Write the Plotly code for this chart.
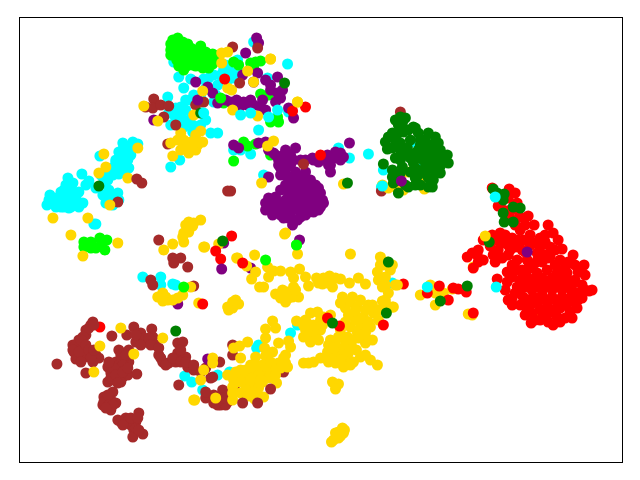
import plotly.graph_objects as go

cyan = [(49,195),(46,205),(53,203),(60,207),(68,208),(78,207),(82,203),(67,178),(70,187),(63,190),(58,197),(75,193),(68,197),(65,202),(73,202),(78,192),(81,174),(88,181),(95,188),(100,175),(106,170),(107,180),(108,190),(117,193),(118,200),(105,203),(112,200),(99,156),(95,224),(93,224),(115,162),(118,152),(123,147),(132,142),(137,144),(128,150),(123,157),(120,163),(128,168),(118,174),(127,160),(113,167),
(173,62),(178,77),(183,88),(190,79),(167,97),(180,107),(190,100),(168,113),(180,115),(170,125),(183,127),(192,125),(192,132),(210,133),(217,133),(202,113),(170,167),(179,160),(203,79),(213,75),(230,72),(237,60),(223,70),(205,88),(217,85),(227,80),(193,95),(213,102),(287,64),(267,78),(253,42),(263,175),(240,150),(250,154),(233,150),(288,112),(258,130),
(368,154),(349,158),(338,148),(383,170),(381,187),(392,283),(412,142),(423,167),(142,277),(160,277),(160,285),(172,284),(175,285),(184,376),(191,382),(202,390),(217,375),(229,372),(258,345),(256,348),(290,333),(297,325),
(55,200),(62,200),(60,192),(68,192),(73,197),(70,207),(63,207),(55,207),(48,200),(65,185),(72,183),(75,198),(115,160),(122,150),(127,147),(125,165),(118,168),(123,170),(112,175),(103,183),(110,195),(102,195),(112,205),(85,185),(130,155),(122,143),
(174,116),(180,122),(175,108),(185,100),(188,120),(185,110),(200,125),(195,132),(205,120),(210,90),(208,78),(222,78),(232,78),(237,72),(215,95),(200,95),(220,75),(225,65)]
lime = [(172,40),(177,38),(170,44),(176,44),(182,42),(187,44),(190,48),(173,50),(178,50),(184,50),(170,55),(175,56),(181,56),(188,54),(194,50),(200,46),(203,52),(197,56),(191,60),(186,60),(207,54),(212,54),(216,56),(198,62),(204,62),(210,62),(195,66),(202,68),(208,68),(178,66),(183,70),(176,60),(192,65),(212,64),
(233,62),(238,65),(250,63),(255,62),(260,61),(253,68),(260,94),(268,95),(223,103),(277,117),(270,122),(278,122),(243,142),(247,146),(255,144),(233,161),(270,155),
(83,242),(83,247),(90,242),(90,248),(99,238),(100,245),(106,240),(104,250),(95,248),(296,245),
(175,47),(187,50),(193,55),(200,50),(205,57),(180,62),(170,50),(200,65),(205,52),(186,66)]
brown = [(232,47),(153,99),(145,107),(152,108),(160,105),(168,106),(163,117),(203,102),(195,105),(167,144),(117,202),(227,191),(230,191),(400,112),(381,191),
(158,240),(172,258),(180,258),(173,263),(187,267),(150,280),(152,285),(193,286),
(92,322),(88,328),(85,335),(78,340),(72,345),(80,347),(73,352),(85,353),(75,359),(82,358),(95,355),(98,358),(92,362),(56,364),(85,373),(111,336),(126,335),(133,327),(140,333),(135,342),(145,342),(151,329),(152,337),(155,345),(158,355),(162,362),(168,363),(175,362),(177,353),(177,343),(182,342),(185,357),(187,367),(193,370),(178,385),(118,350),(128,350),(122,358),(128,362),(115,362),(107,367),(117,370),(110,373),(122,377),(127,375),(107,382),(120,382),(136,374),(113,380),(112,392),(103,397),(102,405),(110,400),(115,403),(110,410),(117,420),(125,418),(138,413),(135,422),(130,425),(133,430),(142,434),(132,437),
(219,362),(232,345),(232,355),(205,398),(213,395),(222,390),(213,403),(220,405),(227,402),(212,377),(235,384),(283,372),(270,373),(210,378),(217,405),(223,403),
(90,325),(85,330),(82,337),(75,345),(80,340),(72,350),(78,352),(85,345),(88,350),(90,358),(80,362),(93,350),(120,355),(125,355),(118,365),(122,365),(113,368),(110,378),(115,375),(122,372),(117,383),(127,368),(108,362),(103,402),(107,395),(108,405),(112,405),(105,408),(120,422),(128,420),(135,428),(122,425),(130,418),(137,418),(138,430),(143,338),(140,345),(148,338),(150,345),(158,348),(160,358),(165,365),(172,358),(180,350),(180,362),(185,362),(193,365),(205,368),(200,372),(215,403),(205,392),(225,405),(218,400),(228,395),(215,398),(222,398),(135,335)]
purple = [(295,148),(273,153),(278,160),(283,155),(280,168),(287,167),(293,160),(313,160),(320,160),
(285,175),(295,172),(303,178),(290,182),(300,185),(310,180),(280,190),(290,190),(300,192),(310,190),(318,188),(322,200),(270,200),(265,203),(275,197),(285,200),(295,200),(305,200),(315,205),(265,210),(275,207),(285,208),(295,208),(305,208),(313,212),(280,215),(288,218),(297,220),(305,215),(272,215),(285,213),(320,207),(299,240),
(349,143),(340,153),(335,152),(340,160),(333,158),(328,165),(330,172),(323,157),(323,203),
(256,38),(258,43),(245,53),(257,73),(242,75),(277,77),(270,85),(277,93),(275,102),(280,98),(253,82),(265,80),(212,93),(195,82),(207,87),(230,102),(235,105),(243,102),(250,100),(253,105),(260,107),(247,105),(288,108),(293,118),(153,120),(197,100),(217,103),(233,145),(238,148),(265,142),(258,143),(268,177),
(223,243),(250,268),(177,304),(207,359),
(280,175),(290,177),(298,178),(305,172),(295,187),(305,187),(285,185),(315,185),(288,195),(298,196),(308,195),(316,196),(320,193),(278,203),(290,204),(300,204),(310,203),(270,205),(268,198),(280,210),(290,213),(300,213),(308,212),(318,210),(275,212),(283,218),(293,222),(300,217),(292,225),(285,150),(278,165),(290,155),(285,160),(275,155),(268,150),(290,165),(283,172),(300,160),(318,162),(330,165),(327,155),(337,156),(343,157),(312,158),(240,106),(262,100),(270,90),(282,90),(265,110),(236,100),(225,100),(305,160),(328,160)]
gold = [(52,218),(87,218),(70,235),(103,154),(105,167),(98,173),(137,148),(127,178),(109,205),(221,53),(227,52),(221,63),(270,59),(247,71),(253,82),(202,91),(227,88),(231,90),(297,102),(157,121),(193,115),(232,110),(257,116),(273,141),(267,146),(261,183),(284,234),(170,143),(172,156),(180,133),(177,140),(183,145),(190,142),(200,131),(202,142),(197,145),(188,153),(192,148),(143,106),
(200,220),(193,223),(185,225),(183,233),(188,232),(183,242),(172,244),(163,250),(203,247),(218,244),(237,258),(246,266),(117,243),(82,256),
(162,293),(162,301),(167,300),(177,298),(182,295),(190,287),(198,303),(227,307),(232,308),(235,300),(238,304),(120,328),(162,338),(99,346),(133,354),(93,372),(194,400),
(285,233),(204,247),(297,254),(350,254),(254,255),(236,258),(267,267),(255,272),(251,279),(268,277),(273,271),(280,271),(290,272),(299,269),(293,278),(305,277),(259,287),(263,287),(308,286),(316,278),(323,278),(329,276),(332,287),(330,282),(340,279),(349,283),(358,278),(365,284),
(275,294),(285,302),(287,292),(293,287),(298,297),(292,297),(380,257),(387,262),(390,270),(377,272),(385,277),(378,280),(388,293),(382,301),(393,307),(392,307),
(272,321),(275,328),(265,329),(265,338),(296,321),(247,342),(239,346),(233,348),(278,343),(288,341),(290,347),(264,348),(272,352),(240,358),(255,357),(265,356),
(305,330),(310,313),(317,312),(323,317),(305,320),(313,325),(307,333),(315,337),(320,330),(312,332),
(342,297),(350,302),(345,308),(357,307),(368,305),(353,315),(363,317),(373,313),(360,327),(370,327),(350,327),(338,337),(328,345),(347,337),(357,333),(365,343),(372,340),(343,348),(337,353),(348,353),(327,352),(320,358),(313,362),(303,363),(308,363),(335,363),(343,367),(347,358),(353,362),(360,357),(370,360),(377,365),(332,382),(338,384),(335,389),
(340,432),(335,433),(343,433),(338,438),(333,440),(331,442),(342,428),(338,432),(340,436),(336,436),(344,430),
(285,363),(278,363),(287,367),(280,368),(253,373),(240,370),(247,377),(257,368),(265,373),(270,370),(253,383),(245,383),(262,382),(255,377),(250,390),(258,388),(240,393),(233,380),(227,375),(232,387),(232,400),(254,399),(263,397),(276,383),(212,358),(212,363),(203,370),(200,380),(193,400),(215,398),
(395,285),(420,295),(430,285),(435,305),(435,293),(443,293),(452,289),(472,315),(468,314),(343,184),(473,267),(382,185),(388,188),(395,187),(403,190),(417,178),(420,180),(424,189),(407,172),(444,161),
(330,340),(335,345),(345,342),(352,340),(340,330),(345,322),(355,320),(360,322),(365,310),(348,315),(340,303),(352,297),(360,300),(372,305),(378,310),(378,320),(368,322),(358,338),(352,348),(342,355),(333,358),(325,358),(340,360),(350,365),(356,350),(320,320),(310,325),(322,325),(330,315),(318,340),(310,342),(303,325),(303,337),(360,318),(355,310),(365,333),(333,348),(328,362),(365,355),
(240,375),(245,370),(250,365),(252,378),(258,375),(262,365),(245,390),(240,382),(268,378),(255,365),(260,380),(235,372),(232,393),(248,396),(256,393),(270,362),(275,370),(283,358),(275,375),(285,355),
(288,298),(280,298),(295,290),(282,290),(335,278),(327,283),(322,284),(318,283),(385,285),(385,300),(383,265),(392,265),(380,265),(382,287),(386,305),(195,135),(183,140),(195,150),(180,150),(187,148),(195,142),(188,222),(182,237),(192,226),(165,297),(172,300),(157,297),(232,302),(228,310),(537,317)]
red = [(492,188),(509,189),(515,193),(517,203),(498,206),(503,210),(520,217),(528,216),(534,225),(548,225),(553,233),(545,235),(500,233),(492,235),(483,240),(520,230),(530,235),(512,238),(502,243),(515,247),(523,240),(540,247),(550,247),(562,249),(573,255),(472,253),(467,257),(477,255),(483,260),(473,268),(493,255),(502,258),(508,255),(517,260),(527,260),(537,253),(535,263),(550,257),(560,260),(570,263),(578,272),(575,280),(507,272),(517,270),(520,280),(527,277),(537,273),(547,270),(557,273),(567,273),(497,279),(507,282),(517,287),(527,287),(537,285),(547,283),(557,285),(568,287),(577,293),(592,290),(589,291),(508,300),(515,293),(523,297),(533,297),(542,295),(552,297),(562,297),(570,298),(577,308),(570,312),(560,308),(547,307),(533,303),(532,313),(547,315),(557,317),(531,323),(553,325),
(453,288),(458,289),(466,292),(448,300),(439,286),(427,293),(403,284),(383,325),(339,326),(473,313),(231,236),(215,251),(220,259),(242,263),(202,304),(327,318),(224,79),(292,111),(305,107),(320,155),(99,327),
(525,252),(545,255),(555,265),(565,268),(575,265),(542,262),(530,268),(522,270),(512,265),(532,280),(542,278),(552,278),(562,280),(572,285),(582,285),(512,277),(522,285),(532,290),(542,290),(552,290),(562,290),(572,292),(582,298),(578,300),(512,298),(520,305),(528,302),(538,302),(548,302),(558,303),(566,305),(575,303),(540,310),(552,310),(565,318),(527,310),(540,320),(510,250),(498,250),(490,246),(505,235),(515,225),(525,225),(540,238),(558,240),(568,262),(545,242),(530,245),(522,250),(495,262),(478,262),(510,218),(510,210),(508,198),(500,200),(517,210),(585,275),(584,265),(520,290),(548,258),(555,250),(528,268),(538,258),(585,290),(558,270),(568,280),(505,290),(512,305),(525,315),(535,320),(560,322),(548,322),(572,318),(518,240),(508,245),(535,243),(495,240),(478,250)]
darkgreen = [(400,117),(395,120),(402,123),(413,127),(388,137),(395,140),(403,132),(418,133),(428,133),(387,149),(400,143),(420,145),(430,145),(438,143),(407,148),(415,153),(427,153),(437,152),(447,155),(448,163),(435,162),(383,164),(400,160),(402,167),(413,163),(423,160),(430,168),(440,173),(423,172),(410,172),(392,177),(433,180),(408,187),(415,185),(428,187),(398,193),(393,183),
(493,189),(497,193),(504,194),(503,200),(513,207),(520,208),(503,213),(504,222),(513,222),(489,242),(347,183),(386,313),(332,323),(467,286),(440,301),(388,262),(284,83),(98,186),(222,241),(175,331),(200,113),
(398,125),(405,118),(408,130),(415,128),(398,133),(392,133),(385,142),(392,148),(400,150),(410,140),(420,140),(425,140),(435,137),(432,150),(440,150),(443,157),(425,150),(418,150),(410,158),(405,155),(395,158),(420,158),(430,158),(438,158),(440,166),(435,172),(425,167),(415,168),(428,178),(418,175),(400,173),(392,170),(398,180),(405,185),(420,185),(432,187),(415,178)]
cyan_top = [(496,287),(495,197),(427,287),(240,115),(250,113),(268,117),(277,110),(203,113),(382,186)]
lime_top = [(265,260),(183,287),(220,98),(296,245)]
brown_top = [(175,125),(239,83),(257,48),(303,164),(136,179),(141,183),(270,389),(242,403),(257,403),(93,325)]
purple_top = [(401,181),(527,252),(221,269)]
gold_top = [(485,236),(397,285),(270,59),(297,102)]

layers = [(cyan,"cyan"),(lime,"lime"),(brown,"brown"),(purple,"purple"),(gold,"gold"),(red,"red"),(darkgreen,"green"),
          (cyan_top,"cyan"),(lime_top,"lime"),(brown_top,"brown"),(purple_top,"purple"),(gold_top,"gold")]

fig = go.Figure()
for pts, col in layers:
    fig.add_trace(go.Scatter(x=[p[0] for p in pts], y=[p[1] for p in pts], mode="markers",
                             marker=dict(size=11, color=col, line=dict(width=0)), showlegend=False, hoverinfo="skip"))
axis = dict(showticklabels=False, ticks="", showgrid=False, zeroline=False, showline=True,
            linecolor="black", linewidth=1, mirror=True)
fig.update_layout(width=624, height=464, margin=dict(l=12, r=10, t=10, b=10), paper_bgcolor="white", plot_bgcolor="white",
                  xaxis=dict(range=[19, 622], **axis), yaxis=dict(range=[462, 18], **axis))
fig.write_html("out.html", config=dict(displayModeBar=False))
